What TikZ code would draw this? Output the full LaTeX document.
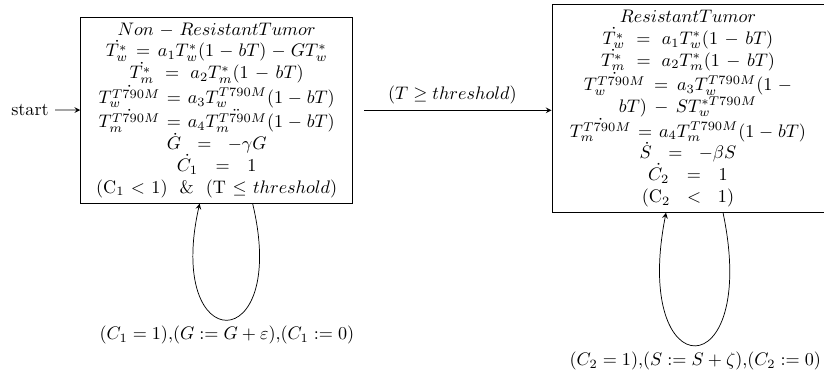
\documentclass[tikz,border=0pt]{standalone}
\usetikzlibrary{arrows}

\tikzset{
  statebox/.style={draw, rectangle, text width=144pt, align=center, inner sep=3pt},
}

\begin{document}
\begin{tikzpicture}[x=0.551pt, y=-0.551pt, >=stealth]
            \useasboundingbox (0,0) rectangle (824,376);
            \node[statebox] (nr) at (216.7, 110.3) {$Non-Resistant Tumor$\\
                $\dot{T_w^*} = a_1T_w^*(1-bT)-GT_w^*$\\
                $\dot{T_m^*} = a_2T_m^*(1-bT)$\\
                $\dot{T_w^{T790M}} = a_3T_w^{T790M}(1-bT)$\\
                $\dot{T_m^{T790M}} = a_4\ddot{T_m^{T790M}}(1-bT)$\\
                $\dot{G} = -\gamma G$\\
                $\dot{C_1} = 1$\\
                $(\mathrm{C}_1 < 1)$\ \ \&\ \ $(\mathrm{T} \leq threshold)$};
            \node[statebox] (rt) at (688, 108.5) {$Resistant Tumor$\\
                $\dot{T_w^*} = a_1T_w^*(1-bT)$\\
                $\dot{T_m^*} = a_2T_m^*(1-bT)$\\
                $\dot{T_w^{T790M}} = a_3T_w^{T790M}(1-bT)-ST_w^{*T790M}$\\
                $\dot{T_m^{T790M}} = a_4T_m^{T790M}(1-bT)$\\
                $\dot{S} = -\beta S$\\
                $\dot{C_2} = 1$\\
                $(\mathrm{C}_2 < 1)$};
            \node (start) at (30, 110) {start};
            \draw[->, thin] (start) -- (nr);
            \draw[->, thin, shorten <=6pt] (nr.east) -- node[above] {$(T \geq threshold)$} (nr.east -| rt.west);
            \draw[->, thin] ([xshift=19.8pt]nr.south) .. controls +(37,155) and +(-35,155) .. node[below] {$(C_1 = 1)$,$(G := G + \varepsilon)$,$(C_1 := 0)$} ([xshift=-9.4pt]nr.south);
            \draw[->, thin] ([xshift=19.3pt]rt.south) .. controls +(37,177) and +(-35,177) .. node[below] {$(C_2 = 1)$,$(S := S + \zeta)$,$(C_2 := 0)$} ([xshift=-12.1pt]rt.south);
        \end{tikzpicture}
\end{document}
